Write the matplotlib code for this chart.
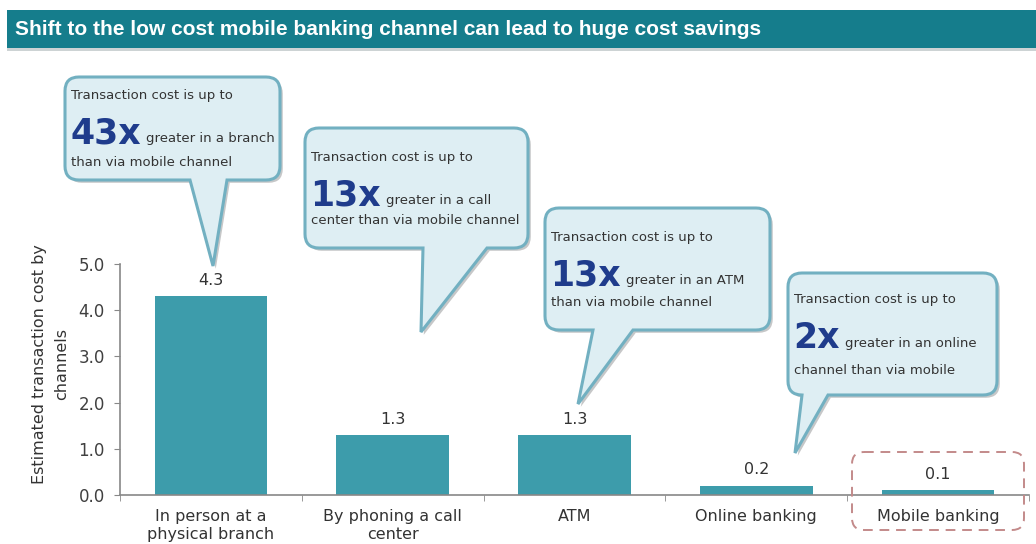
import matplotlib
matplotlib.use("Agg")
import matplotlib.pyplot as plt
import matplotlib.patheffects as pe
from matplotlib.path import Path
from matplotlib.patches import PathPatch, FancyBboxPatch, Rectangle

# channel costs (USD per transaction)
channels = ["In person at a\nphysical branch", "By phoning a call\ncenter", "ATM",
            "Online banking", "Mobile banking"]
costs = [4.3, 1.3, 1.3, 0.2, 0.1]
yticks = [0.0, 1.0, 2.0, 3.0, 4.0, 5.0]

# callout texts
multipliers = ["43x", "13x", "13x", "2x"]
lead_text = "Transaction cost is up to"
mid_text = ["greater in a branch", "greater in a call", "greater in an ATM",
            "greater in an online"]
tail_text = ["than via mobile channel", "center than via mobile channel",
             "than via mobile channel", "channel than via mobile"]

TEAL = "#3d9cab"
HEADER = "#157d8c"
BUBBLE_FACE = "#deeef3"
BUBBLE_EDGE = "#72b0c1"
BIG_BLUE = "#1f3c8c"
TXT = "#333333"
FONT = "DejaVu Sans"

W, H = 1036, 544
fig = plt.figure(figsize=(W / 100, H / 100), dpi=100)

# main bar chart, placed in pixel units
left, right, bottom, top = 120, 1029, 495, 264
ax = fig.add_axes([left / W, (H - bottom) / H, (right - left) / W, (bottom - top) / H])
x = range(len(channels))
bars = ax.bar(x, costs, width=0.62, color=TEAL, zorder=2)
ax.bar_label(bars, fmt="%.1f", padding=6, fontsize=11.5, color=TXT, family=FONT)

ax.set_xlim(-0.5, len(channels) - 0.5)
ax.set_ylim(0, 5)
ax.set_yticks(yticks)
ax.set_yticklabels([f"{v:.1f}" for v in yticks], fontsize=12, color="#404040", family=FONT)
ax.set_xticks(list(x))
ax.set_xticklabels(channels, fontsize=11.5, color=TXT, family=FONT, linespacing=1.3)
ax.set_xticks([i - 0.5 for i in range(len(channels) + 1)], minor=True)
ax.tick_params(axis="x", which="major", length=0, pad=10)
ax.tick_params(axis="x", which="minor", length=4, color="#888888", direction="out")
ax.tick_params(axis="y", length=4, color="#888888", pad=7)
for side in ("top", "right"):
    ax.spines[side].set_visible(False)
for side in ("left", "bottom"):
    ax.spines[side].set_color("#888888")
    ax.spines[side].set_linewidth(1.2)

ax.set_ylabel("Estimated transaction cost by\nchannels", fontsize=11.5, color=TXT,
              family=FONT, linespacing=1.55)
ax.yaxis.set_label_coords((69 - left) / (right - left), 0.567)

# overlay in image pixels for header and callouts
ov = fig.add_axes([0, 0, 1, 1], zorder=5)
ov.set_xlim(0, W)
ov.set_ylim(H, 0)
ov.axis("off")

ov.add_patch(Rectangle((7, 10), W - 7, 38, facecolor=HEADER, edgecolor="none",
                       path_effects=[pe.SimplePatchShadow(offset=(0, -2), alpha=0.2), pe.Normal()]))
ov.text(15, 29.5, "Shift to the low cost mobile banking channel can lead to huge cost savings",
        color="white", fontsize=15, fontweight="bold", family="Liberation Sans", va="center")

# dashed frame around the mobile channel
ov.add_patch(FancyBboxPatch((852, 452), 172, 78, boxstyle="round,pad=0,rounding_size=12",
                            facecolor="none", edgecolor="#c38a8a", lw=1.4,
                            linestyle=(0, (5, 3.5))))


def bubble(x0, y0, x1, y1, tl, tr, tip, r=14):
    verts = [(x0 + r, y0), (x1 - r, y0), (x1, y0), (x1, y0 + r), (x1, y1 - r), (x1, y1),
             (x1 - r, y1), (tr, y1), tip, (tl, y1), (x0 + r, y1), (x0, y1), (x0, y1 - r),
             (x0, y0 + r), (x0, y0), (x0 + r, y0), (x0 + r, y0)]
    codes = [Path.MOVETO, Path.LINETO, Path.CURVE3, Path.CURVE3, Path.LINETO, Path.CURVE3,
             Path.CURVE3, Path.LINETO, Path.LINETO, Path.LINETO, Path.LINETO, Path.CURVE3,
             Path.CURVE3, Path.LINETO, Path.CURVE3, Path.CURVE3, Path.CLOSEPOLY]
    return Path(verts, codes)


# box corners, tail base, tail tip, text rows (lead, big baseline, tail)
boxes = [(65, 77, 280, 180), (305, 128, 528, 248), (545, 208, 770, 330), (788, 273, 997, 395)]
tails = [(190, 227, (213, 266)), (423, 487, (421, 332)), (593, 633, (578, 404)),
         (802, 828, (795, 453))]
rows = [(95, 143, 162), (157, 205, 220), (238, 285, 303), (300, 348, 370)]

for i, ((x0, y0, x1, y1), (tl, tr, tip), (r1, r2, r3)) in enumerate(zip(boxes, tails, rows)):
    ov.add_patch(PathPatch(bubble(x0, y0, x1, y1, tl, tr, tip), facecolor=BUBBLE_FACE,
                           edgecolor=BUBBLE_EDGE, lw=2.2,
                           path_effects=[pe.SimplePatchShadow(offset=(2, -2), alpha=0.3),
                                         pe.Normal()]))
    tx = x0 + 6
    ov.text(tx, r1, lead_text, fontsize=9.5, color=TXT, family=FONT, va="center")
    big = ov.text(tx - 1, r2, multipliers[i], fontsize=25, fontweight="bold", color=BIG_BLUE,
                  family=FONT, va="baseline")
    ov.annotate(mid_text[i], xy=(1, 0), xycoords=big, xytext=(4, 3.5),
                textcoords="offset points", fontsize=9.5, color=TXT, family=FONT, va="bottom")
    ov.text(tx, r3, tail_text[i], fontsize=9.5, color=TXT, family=FONT, va="center")

fig.savefig("out.png", dpi=100)
